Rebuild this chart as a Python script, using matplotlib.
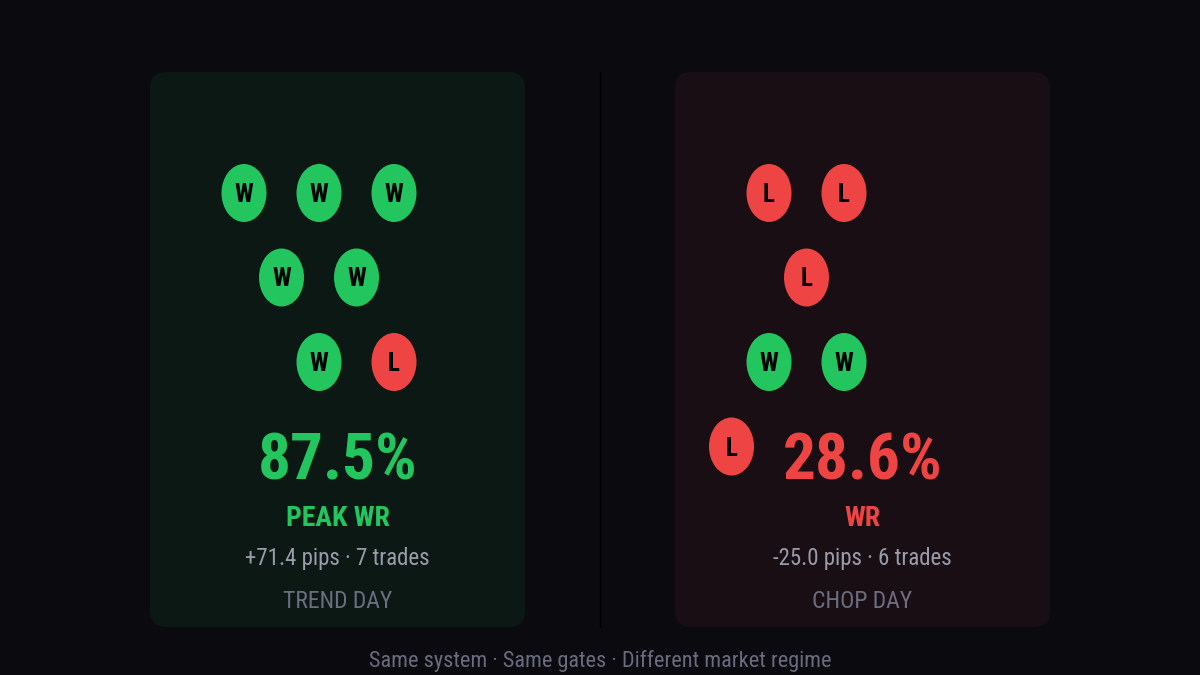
import matplotlib
matplotlib.use('Agg')
import matplotlib.pyplot as plt
from matplotlib.patches import FancyBboxPatch, Ellipse

plt.rcParams['font.family'] = ['Roboto Condensed', 'Liberation Sans', 'DejaVu Sans']

# data
panel_titles = ['TREND DAY', 'CHOP DAY']
win_rates = ['87.5%', '28.6%']
rate_labels = ['PEAK WR', 'WR']
stats = ['+71.4 pips \u00b7 7 trades', '-25.0 pips \u00b7 6 trades']
outcomes = [['W', 'W', 'W', 'W', 'W', 'W', 'L'],
            ['L', 'L', 'L', 'W', 'W', 'L']]
# (column, row) slot of each trade bubble inside its card
slots = [[(0, 0), (1, 0), (2, 0), (0.5, 1), (1.5, 1), (1, 2), (2, 2)],
         [(0, 0), (1, 0), (0.5, 1), (0, 2), (1, 2), (-0.5, 3)]]
footer = 'Same system \u00b7 Same gates \u00b7 Different market regime'

BG = '#0a0a0f'
GREEN = '#22c55e'
RED = '#ef4444'
card_fill = ['#0c1814', '#190e13']
accent = [GREEN, RED]

fig = plt.figure(figsize=(12, 6.75), dpi=100)
fig.patch.set_facecolor(BG)
ax = fig.add_axes([0, 0, 1, 1])
ax.set_xlim(0, 1200)
ax.set_ylim(675, 0)
ax.axis('off')

card_x = [150, 675]
card_w, card_top, card_h = 375, 72, 555

for i in range(2):
    x0 = card_x[i]
    cx = x0 + card_w / 2
    ax.add_patch(FancyBboxPatch((x0, card_top), card_w, card_h,
                                boxstyle='round,pad=0,rounding_size=16',
                                fc=card_fill[i], ec='none'))
    for res, (c, r) in zip(outcomes[i], slots[i]):
        bx = x0 + 94 + 75 * c
        by = 193 + 84.5 * r
        ax.add_patch(Ellipse((bx, by), 45, 58, fc=GREEN if res == 'W' else RED, ec='none'))
        ax.text(bx, by + 2, res, ha='center', va='center', fontsize=18,
                fontweight='bold', color='#000000')
    ax.text(cx, 462, win_rates[i], ha='center', va='center', fontsize=47,
            fontweight='bold', color=accent[i])
    ax.text(cx, 518, rate_labels[i], ha='center', va='center', fontsize=20,
            fontweight='bold', color=accent[i])
    ax.text(cx, 559, stats[i], ha='center', va='center', fontsize=16.5,
            color='#9a9cab')
    ax.text(cx, 601, panel_titles[i], ha='center', va='center', fontsize=17,
            color='#6b6d80')

ax.plot([600, 600], [card_top, card_top + card_h], color='#000000', lw=1)
ax.text(600, 661, footer, ha='center', va='center', fontsize=16, color='#6b6b80')

fig.savefig('out.png', dpi=100, facecolor=BG)
